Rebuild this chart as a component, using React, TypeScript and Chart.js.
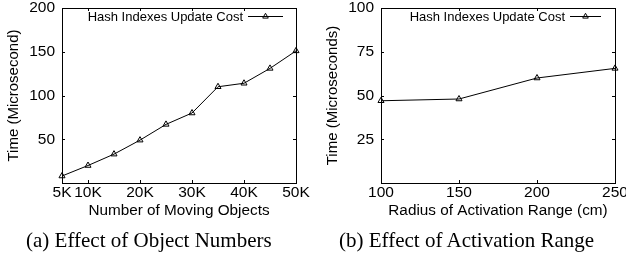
import React, { useEffect, useRef } from "react";
import { Chart, registerables } from "chart.js";

Chart.register(...registerables);

// ---- data ----
const objectCounts = [5000, 10000, 15000, 20000, 25000, 30000, 35000, 40000, 45000, 50000];
const objectCost = [8, 20, 33, 49, 67, 80, 110, 114, 131, 151];
const objectXTicks = [5000, 10000, 20000, 30000, 40000, 50000];
const objectYTicks = [50, 100, 150, 200];

const radiusValues = [100, 150, 200, 250];
const radiusCost = [47, 48, 60, 65.5];
const radiusXTicks = [100, 150, 200, 250];
const radiusYTicks = [25, 50, 75, 100];

const legendLabel = "Hash Indexes Update Cost";

const SANS = "'Liberation Sans', Arial, Helvetica, sans-serif";
const SERIF = "'Liberation Serif', 'Times New Roman', serif";

function drawTriangle(ctx: CanvasRenderingContext2D, x: number, y: number, r: number) {
  const TWO_THIRDS_PI = (Math.PI * 2) / 3;
  let rad = 0;
  ctx.beginPath();
  ctx.moveTo(x + Math.sin(rad) * r, y - Math.cos(rad) * r);
  rad += TWO_THIRDS_PI;
  ctx.lineTo(x + Math.sin(rad) * r, y - Math.cos(rad) * r);
  rad += TWO_THIRDS_PI;
  ctx.lineTo(x + Math.sin(rad) * r, y - Math.cos(rad) * r);
  ctx.closePath();
}

const framePlugin = {
  id: "gnuFrame",
  beforeDatasetsDraw(chart: any) {
    const { ctx, chartArea } = chart;
    const { left, right, top, bottom } = chartArea;
    const xs = chart.scales.x;
    const ys = chart.scales.y;
    const tl = 3;
    ctx.save();
    ctx.strokeStyle = "#000";
    ctx.lineWidth = 1;
    ctx.beginPath();
    xs.ticks.forEach((t: any) => {
      const px = Math.round(xs.getPixelForValue(t.value)) + 0.5;
      ctx.moveTo(px, bottom);
      ctx.lineTo(px, bottom - tl);
      ctx.moveTo(px, top);
      ctx.lineTo(px, top + tl);
    });
    ys.ticks.forEach((t: any) => {
      const py = Math.round(ys.getPixelForValue(t.value)) + 0.5;
      ctx.moveTo(left, py);
      ctx.lineTo(left + tl, py);
      ctx.moveTo(right, py);
      ctx.lineTo(right - tl, py);
    });
    ctx.stroke();
    ctx.strokeRect(Math.round(left) + 0.5, Math.round(top) + 0.5, Math.round(right - left), Math.round(bottom - top));
    ctx.restore();
  },
};

const legendPlugin = {
  id: "gnuLegend",
  afterDraw(chart: any) {
    const opts = chart.options.plugins.gnuLegend || {};
    const { ctx, chartArea } = chart;
    const lineEnd = chartArea.right - (opts.endGap ?? 13);
    const lineStart = lineEnd - (opts.lineLen ?? 34);
    const y = chartArea.top + (opts.dy ?? 8.5);
    ctx.save();
    ctx.strokeStyle = "#000";
    ctx.fillStyle = "#000";
    ctx.lineWidth = 1;
    ctx.beginPath();
    ctx.moveTo(lineStart, y);
    ctx.lineTo(lineEnd, y);
    ctx.stroke();
    const mx = (lineStart + lineEnd) / 2;
    drawTriangle(ctx, mx, y, 3.2);
    ctx.stroke();
    ctx.font = `13px ${SANS}`;
    ctx.textAlign = "right";
    ctx.textBaseline = "middle";
    ctx.fillText(opts.text || "", lineStart - 5, y + 0.5);
    ctx.restore();
  },
};

interface PanelProps {
  xs: number[];
  ys: number[];
  xTicks: number[];
  yTicks: number[];
  xMin: number;
  xMax: number;
  yMax: number;
  xTitle: string;
  yTitle: string;
  xFmt: (v: number) => string;
  yWidth: number;
  padRight: number;
  yTitlePad: number;
  legendLineLen: number;
  legendEndGap: number;
}

function Panel(p: PanelProps) {
  const ref = useRef<HTMLCanvasElement | null>(null);
  useEffect(() => {
    if (!ref.current) return;
    const chart = new Chart(ref.current, {
      type: "line",
      data: {
        datasets: [
          {
            label: legendLabel,
            data: p.xs.map((x, i) => ({ x, y: p.ys[i] })),
            borderColor: "#000",
            borderWidth: 1,
            backgroundColor: "rgba(0,0,0,0)",
            pointStyle: "triangle",
            pointRadius: 3.5,
            pointBorderWidth: 1,
            pointBorderColor: "#000",
            pointBackgroundColor: "rgba(0,0,0,0)",
            tension: 0,
            clip: false as any,
          },
        ],
      },
      options: {
        responsive: false,
        animation: false,
        devicePixelRatio: 1,
        layout: { padding: { left: 0, right: p.padRight, top: 8, bottom: 36 } },
        plugins: {
          legend: { display: false },
          tooltip: { enabled: false },
          gnuLegend: { text: legendLabel, lineLen: p.legendLineLen, endGap: p.legendEndGap, dy: 8.5 },
        } as any,
        scales: {
          x: {
            type: "linear",
            min: p.xMin,
            max: p.xMax,
            grid: { display: false, drawTicks: false },
            border: { display: false },
            afterBuildTicks: (s: any) => {
              s.ticks = p.xTicks.map((v) => ({ value: v }));
            },
            afterFit: (s: any) => {
              s.height = 37;
              s.paddingLeft = 0;
              s.paddingRight = 0;
            },
            ticks: {
              autoSkip: false,
              maxRotation: 0,
              padding: 0,
              color: "#000",
              font: { family: SANS, size: 15.5 },
              callback: (v: any) => p.xFmt(Number(v)),
            },
            title: {
              display: true,
              text: p.xTitle,
              color: "#000",
              padding: 0,
              font: { family: SANS, size: 15.3 },
            },
          },
          y: {
            type: "linear",
            min: 0,
            max: p.yMax,
            grid: { display: false, drawTicks: false },
            border: { display: false },
            afterBuildTicks: (s: any) => {
              s.ticks = p.yTicks.map((v) => ({ value: v }));
            },
            afterFit: (s: any) => {
              s.width = p.yWidth;
              s.paddingTop = 0;
              s.paddingBottom = 0;
            },
            ticks: {
              autoSkip: false,
              padding: 7,
              color: "#000",
              font: { family: SANS, size: 15.5 },
            },
            title: {
              display: true,
              text: p.yTitle,
              color: "#000",
              padding: { top: p.yTitlePad, bottom: 0 },
              font: { family: SANS, size: 15 },
            },
          },
        },
      },
      plugins: [framePlugin, legendPlugin],
    });
    return () => chart.destroy();
  }, []);
  return (
    <canvas
      ref={ref}
      width={313}
      height={256}
      style={{ display: "block", width: 313, height: 256 }}
    />
  );
}

export default function App() {
  const kFmt = (v: number) => `${v / 1000}K`;
  const plainFmt = (v: number) => `${v}`;
  return (
    <div
      style={{
        position: "fixed",
        left: 0,
        top: 0,
        width: 626,
        height: 256,
        background: "#fff",
        overflow: "hidden",
      }}
    >
      <div style={{ position: "absolute", left: 0, top: 0 }}>
        <Panel
          xs={objectCounts}
          ys={objectCost}
          xTicks={objectXTicks}
          yTicks={objectYTicks}
          xMin={5000}
          xMax={50000}
          yMax={200}
          xTitle="Number of Moving Objects"
          yTitle="Time (Microsecond)"
          xFmt={kFmt}
          yWidth={62}
          padRight={17}
          yTitlePad={5}
          legendLineLen={35}
          legendEndGap={13}
        />
      </div>
      <div style={{ position: "absolute", left: 313, top: 0 }}>
        <Panel
          xs={radiusValues}
          ys={radiusCost}
          xTicks={radiusXTicks}
          yTicks={radiusYTicks}
          xMin={100}
          xMax={250}
          yMax={100}
          xTitle="Radius of Activation Range (cm)"
          yTitle="Time (Microseconds)"
          xFmt={plainFmt}
          yWidth={68}
          padRight={11}
          yTitlePad={10.5}
          legendLineLen={31}
          legendEndGap={14}
        />
      </div>
      <div
        style={{
          position: "absolute",
          left: 26,
          top: 230,
          fontFamily: SERIF,
          fontSize: 21,
          lineHeight: "21px",
          whiteSpace: "nowrap",
          color: "#000",
        }}
      >
        (a) Effect of Object Numbers
      </div>
      <div
        style={{
          position: "absolute",
          left: 339,
          top: 230,
          fontFamily: SERIF,
          fontSize: 21,
          lineHeight: "21px",
          whiteSpace: "nowrap",
          color: "#000",
        }}
      >
        (b) Effect of Activation Range
      </div>
    </div>
  );
}
